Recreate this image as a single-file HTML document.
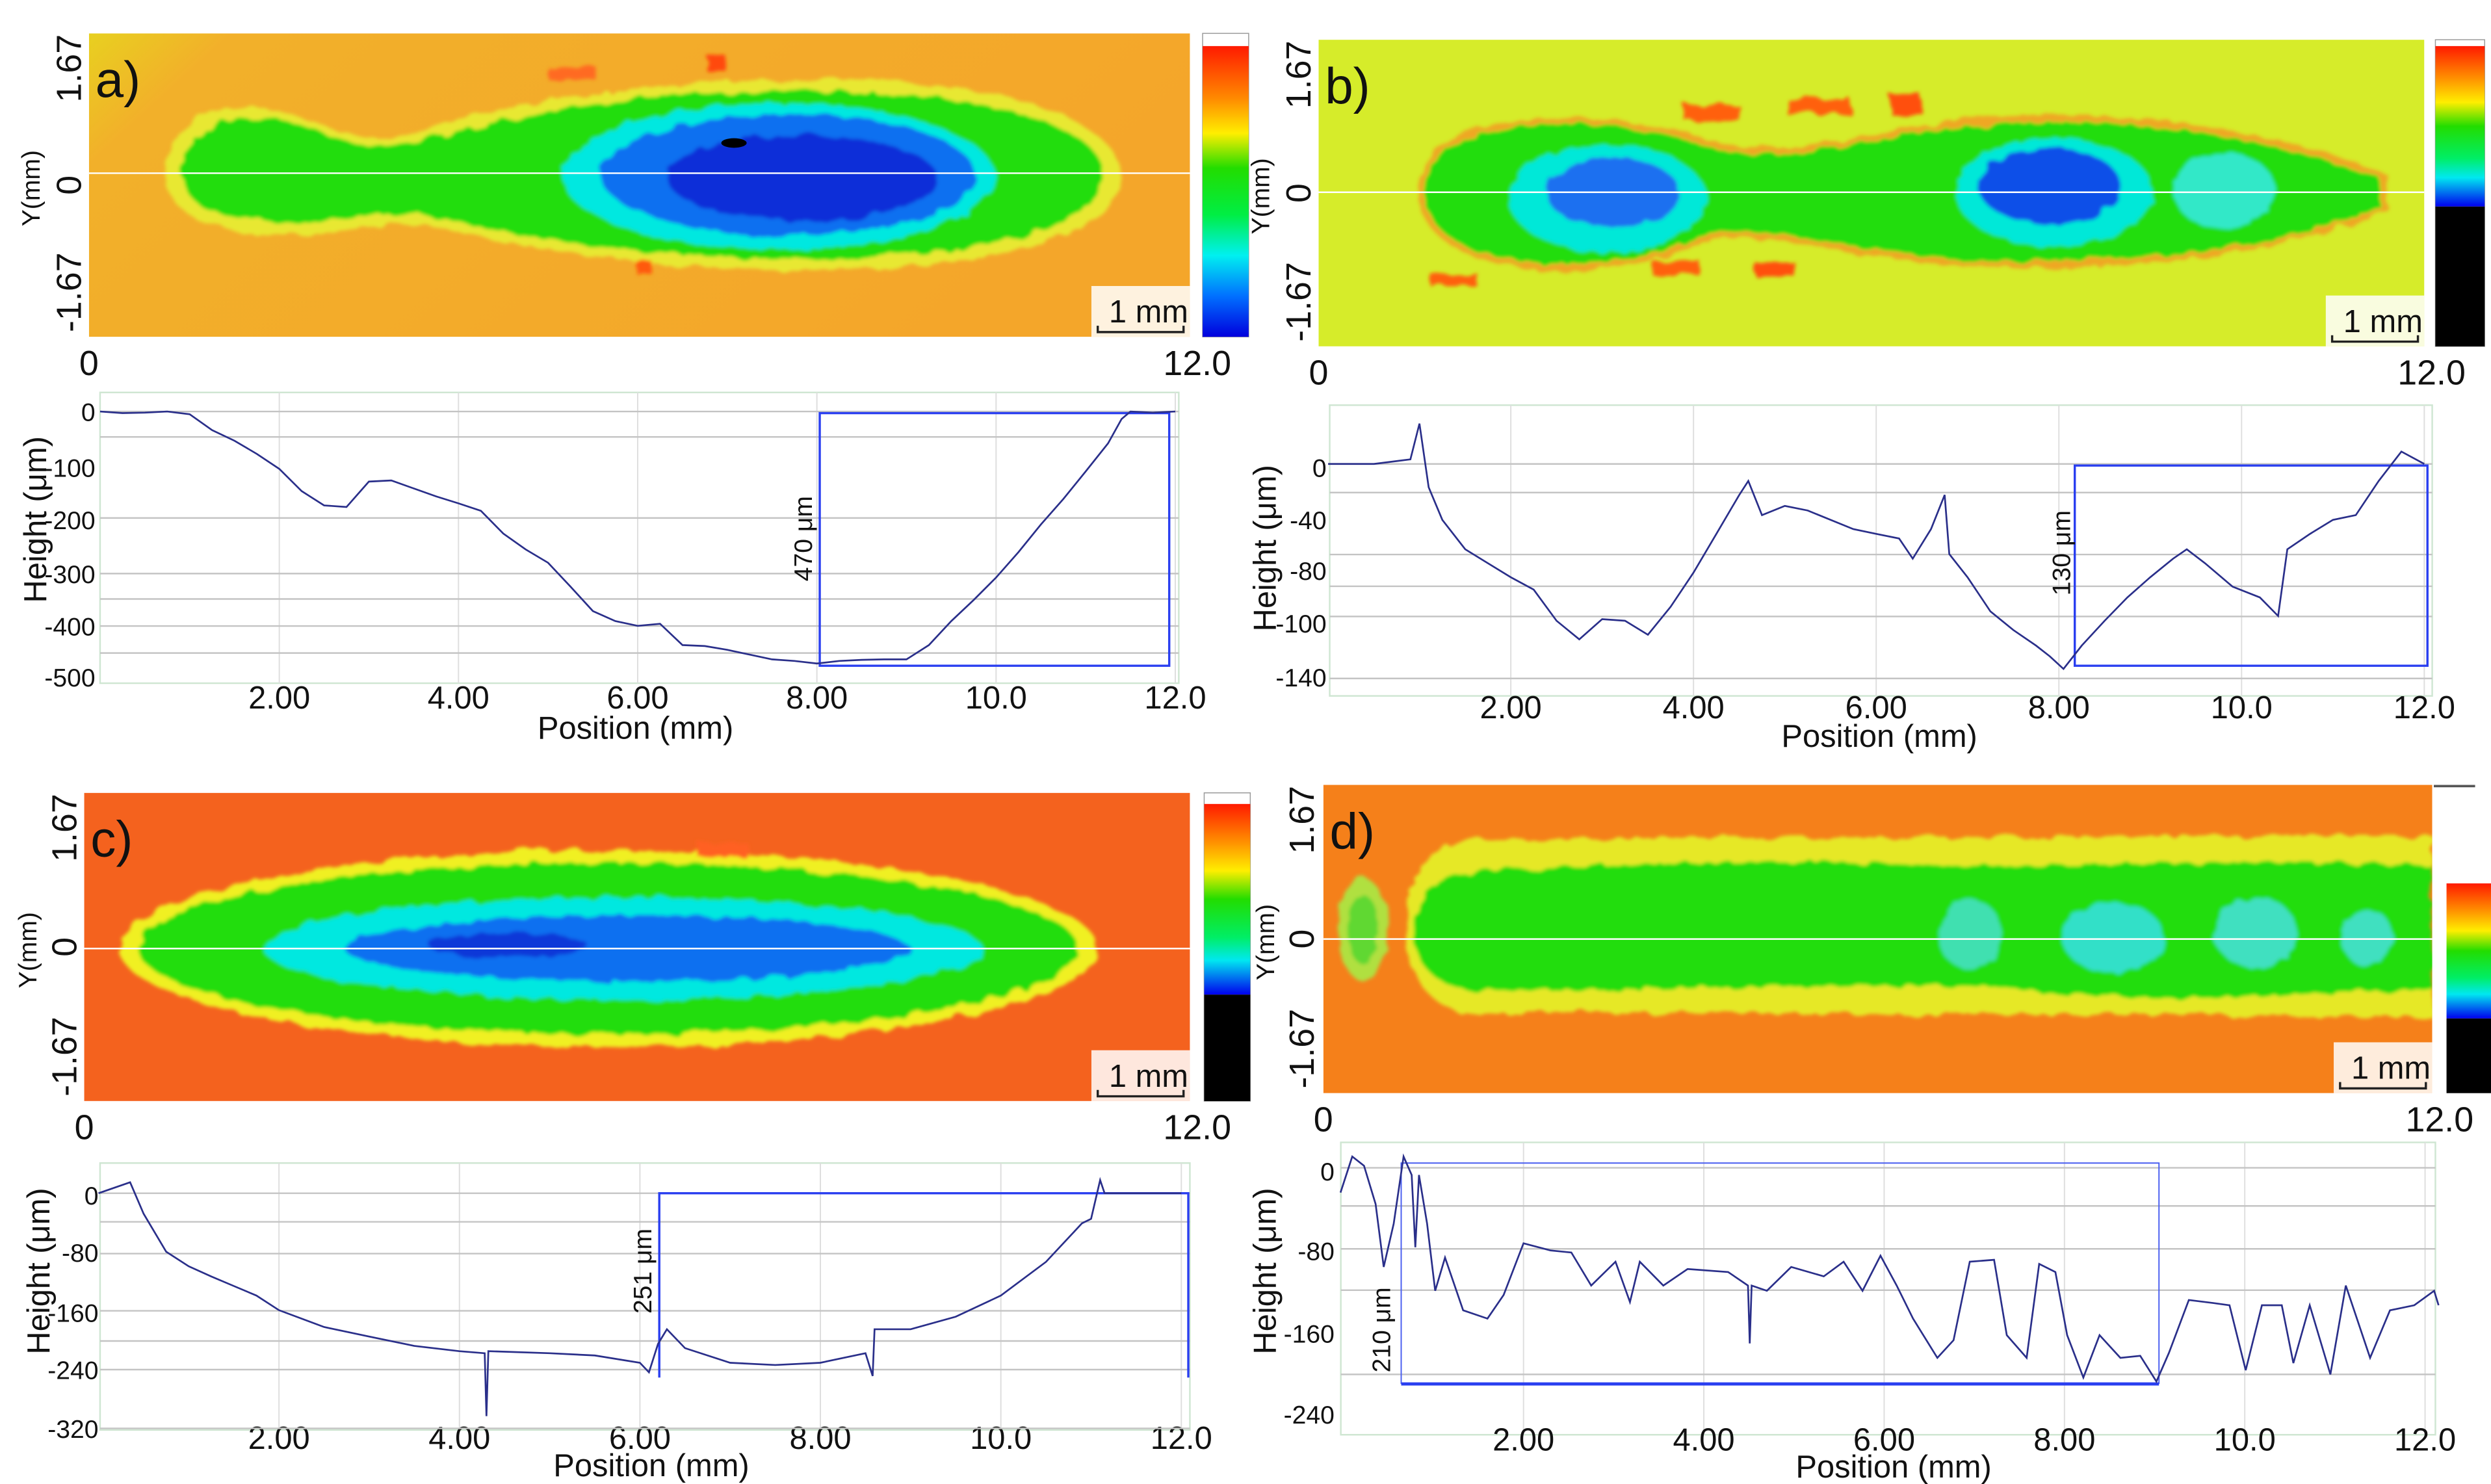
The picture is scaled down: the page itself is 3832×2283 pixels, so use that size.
<!DOCTYPE html>
<html><head><meta charset="utf-8"><style>
html,body{margin:0;padding:0;background:#fff;}
svg{display:block;}
text{font-family:"Liberation Sans","DejaVu Sans",sans-serif;fill:#111;}
</style></head><body>
<svg id="fig" xmlns="http://www.w3.org/2000/svg" width="3832" height="2283" viewBox="0 0 1568 934" preserveAspectRatio="none">
<defs>
<linearGradient id="cbar" x1="0" y1="0" x2="0" y2="1">
<stop offset="0" stop-color="#ff1a00"/><stop offset="0.18" stop-color="#ff8a00"/><stop offset="0.3" stop-color="#ffee00"/><stop offset="0.42" stop-color="#22dd00"/><stop offset="0.58" stop-color="#00ee44"/><stop offset="0.72" stop-color="#00f0f0"/><stop offset="0.86" stop-color="#0070ff"/><stop offset="1" stop-color="#0000dd"/>
</linearGradient>
<linearGradient id="cbar2" x1="0" y1="0" x2="0" y2="1">
<stop offset="0" stop-color="#ff1a00"/><stop offset="0.2" stop-color="#ff9000"/><stop offset="0.35" stop-color="#ffee00"/><stop offset="0.5" stop-color="#22dd00"/><stop offset="0.7" stop-color="#00ee66"/><stop offset="0.82" stop-color="#00e8f0"/><stop offset="1" stop-color="#0000ee"/>
</linearGradient>
<linearGradient id="bgA" x1="0" y1="0" x2="1" y2="0.3"><stop offset="0" stop-color="#e8d020"/><stop offset="0.12" stop-color="#f2b02a"/><stop offset="1" stop-color="#f4a62a"/></linearGradient>
<filter id="rough" x="-10%" y="-20%" width="120%" height="140%">
<feTurbulence type="fractalNoise" baseFrequency="0.09" numOctaves="2" seed="3"/>
<feDisplacementMap in="SourceGraphic" scale="7"/>
<feGaussianBlur stdDeviation="1.2"/>
</filter>
<clipPath id="clipA"><rect x="56" y="21" width="693" height="191"/></clipPath>
<clipPath id="clipB"><rect x="830" y="25" width="696" height="193"/></clipPath>
<clipPath id="clipC"><rect x="53" y="499" width="696" height="194"/></clipPath>
<clipPath id="clipD"><rect x="833" y="494" width="698" height="194"/></clipPath>
</defs>

<!-- MAP A -->
<g clip-path="url(#clipA)">
<rect x="56" y="21" width="693" height="191" fill="url(#bgA)"/>
<g filter="url(#rough)">
<path d="M104,108 C104,75 140,62 175,70 C205,76 225,92 250,86 C300,70 380,52 500,50 C640,48 705,78 705,110 C705,145 640,170 500,170 C400,170 330,155 270,142 C240,136 215,150 180,148 C130,146 104,135 104,108 Z" fill="#e8e830"/>
<path d="M115,108 C115,80 145,70 178,76 C205,81 225,96 252,92 C300,78 380,58 500,57 C630,56 695,82 695,110 C695,140 630,163 500,163 C400,163 330,150 272,136 C240,130 215,142 180,140 C135,138 115,130 115,108 Z" fill="#22dd10"/>
<ellipse cx="490" cy="111" rx="136" ry="46" fill="#00e8e0"/>
<ellipse cx="496" cy="110" rx="118" ry="38" fill="#1070f0"/>
<ellipse cx="505" cy="112" rx="85" ry="27" fill="#0a2fd8"/>
<rect x="445" y="35" width="12" height="10" fill="#ff4a10"/>
<rect x="345" y="42" width="30" height="8" fill="#ff6a20"/>
<rect x="400" y="164" width="10" height="8" fill="#ff5a10"/>
</g>
<ellipse cx="462" cy="90" rx="8" ry="3" fill="#000"/>
<line x1="56" y1="109" x2="749" y2="109" stroke="#fff" stroke-width="1"/>
</g>
<rect x="757" y="21" width="29" height="191" fill="#fff" stroke="#999" stroke-width="0.6"/>
<rect x="757" y="29" width="29" height="183" fill="url(#cbar)"/>

<!-- MAP B -->
<g clip-path="url(#clipB)">
<rect x="830" y="25" width="696" height="193" fill="#d6ec2a"/>
<g filter="url(#rough)">
<path d="M893,121 C893,90 930,74 985,74 C1040,74 1070,88 1090,92 C1150,96 1190,80 1240,75 C1320,68 1420,76 1503,110 L1503,132 C1440,160 1330,172 1240,168 C1180,165 1140,150 1090,150 C1060,152 1040,170 985,170 C930,170 893,152 893,121 Z" fill="#ff7a20" opacity="0.6"/>
<path d="M897,121 C897,92 932,78 985,78 C1040,78 1070,92 1090,96 C1150,100 1190,84 1240,79 C1320,72 1420,82 1498,112 L1498,130 C1440,158 1330,166 1240,164 C1180,161 1140,146 1090,146 C1060,148 1040,166 985,166 C932,166 897,150 897,121 Z" fill="#22dd10"/>
<ellipse cx="1012" cy="125" rx="62" ry="34" fill="#00e8d8"/>
<ellipse cx="1015" cy="121" rx="42" ry="22" fill="#1a70f0"/>
<ellipse cx="1293" cy="121" rx="62" ry="34" fill="#00e8d8"/>
<ellipse cx="1290" cy="117" rx="45" ry="24" fill="#1050e8"/>
<ellipse cx="1400" cy="120" rx="32" ry="24" fill="#30e8c8"/>
<rect x="1060" y="66" width="35" height="10" fill="#ff6010"/>
<rect x="1125" y="62" width="40" height="10" fill="#ff6010"/>
<rect x="1190" y="60" width="20" height="12" fill="#ff5010"/>
<rect x="1040" y="164" width="30" height="9" fill="#ff6010"/>
<rect x="900" y="172" width="30" height="8" fill="#ff6010"/>
<rect x="1105" y="165" width="25" height="9" fill="#ff5010"/>
</g>
<line x1="830" y1="121" x2="1526" y2="121" stroke="#fff" stroke-width="1"/>
</g>
<rect x="1533" y="25" width="31" height="193" fill="#fff" stroke="#999" stroke-width="0.6"/>
<rect x="1533" y="29" width="31" height="101" fill="url(#cbar2)"/>
<rect x="1533" y="130" width="31" height="88" fill="#000"/>

<!-- MAP C -->
<g clip-path="url(#clipC)">
<rect x="53" y="499" width="696" height="194" fill="#f4621e"/>
<g filter="url(#rough)">
<ellipse cx="383" cy="597" rx="308" ry="62" fill="#f0f020"/>
<ellipse cx="383" cy="597" rx="296" ry="54" fill="#22dd10"/>
<ellipse cx="392" cy="597" rx="226" ry="32" fill="#00e8e0"/>
<ellipse cx="395" cy="597" rx="178" ry="21" fill="#1070f0"/>
<ellipse cx="320" cy="595" rx="50" ry="8" fill="#0a38d8"/>
<rect x="440" y="530" width="30" height="10" fill="#ff6020"/>
<rect x="325" y="534" width="20" height="8" fill="#f0f020"/>
</g>
<line x1="53" y1="597" x2="749" y2="597" stroke="#fff" stroke-width="1"/>
</g>
<rect x="758" y="499" width="29" height="194" fill="#fff" stroke="#999" stroke-width="0.6"/>
<rect x="758" y="506" width="29" height="120" fill="url(#cbar2)"/>
<rect x="758" y="626" width="29" height="67" fill="#000"/>

<!-- MAP D -->
<g clip-path="url(#clipD)">
<rect x="833" y="494" width="698" height="194" fill="#f5801a"/>
<g filter="url(#rough)">
<path d="M920,528 L1531,526 L1531,640 L920,637 C895,630 885,610 885,583 C885,556 895,535 920,528 Z" fill="#e6e828"/>
<path d="M930,548 C1000,545 1100,540 1200,544 C1300,548 1400,538 1531,545 L1531,622 C1400,630 1300,628 1270,622 C1200,618 1100,622 930,624 C900,620 890,605 890,586 C890,566 900,552 930,548 Z" fill="#22dd10"/>
<ellipse cx="858" cy="585" rx="16" ry="32" fill="#b0e040"/>
<ellipse cx="858" cy="585" rx="9" ry="22" fill="#60d830"/>
<ellipse cx="1240" cy="588" rx="20" ry="22" fill="#40e0b0"/>
<ellipse cx="1330" cy="590" rx="32" ry="22" fill="#30e0c8"/>
<ellipse cx="1420" cy="587" rx="26" ry="22" fill="#40e0c0"/>
<ellipse cx="1490" cy="590" rx="16" ry="18" fill="#40e0c0"/>
</g>
<line x1="833" y1="591" x2="1531" y2="591" stroke="#fff" stroke-width="1"/>
</g>
<rect x="1532" y="494" width="26" height="1.5" fill="#555"/>
<rect x="1540" y="556" width="28" height="85" fill="url(#cbar2)"/>
<rect x="1540" y="641" width="28" height="47" fill="#000"/>

<g id="labels"></g>
<g id="plots"></g>
</svg>
<script>
// ---------- data ----------
const posA = [0,0.25,0.5,0.75,1.0,1.25,1.5,1.75,2.0,2.25,2.5,2.75,3.0,3.25,3.5,3.75,4.0,4.25,4.5,4.75,5.0,5.25,5.5,5.75,6.0,6.25,6.5,6.75,7.0,7.25,7.5,7.75,8.0,8.25,8.5,8.75,9.0,9.25,9.5,9.75,10.0,10.25,10.5,10.75,11.0,11.25,11.4,11.5,11.75,12.0];
const heightA = [0,-3,-2,0,-5,-35,-55,-80,-108,-150,-177,-180,-132,-130,-145,-160,-173,-187,-230,-260,-285,-330,-376,-395,-404,-400,-440,-442,-449,-458,-467,-470,-475,-470,-468,-467,-467,-440,-395,-355,-313,-265,-213,-165,-113,-60,-14,0,-2,0];
const posB = [0,0.5,0.9,1.0,1.1,1.25,1.5,1.75,2.0,2.25,2.5,2.75,3.0,3.25,3.5,3.75,4.0,4.25,4.5,4.6,4.75,5.0,5.25,5.5,5.75,6.0,6.25,6.4,6.6,6.75,6.8,7.0,7.25,7.5,7.75,7.9,8.05,8.25,8.5,8.75,9.0,9.25,9.4,9.6,9.9,10.2,10.4,10.5,10.75,11.0,11.25,11.5,11.75,12.0];
const heightB = [0,0,3,26,-15,-36,-55,-64,-73,-81,-101,-113,-100,-101,-110,-92,-70,-45,-20,-11,-33,-27,-30,-36,-42,-45,-48,-61,-42,-20,-58,-73,-95,-107,-117,-124,-132,-117,-101,-86,-73,-61,-55,-64,-79,-86,-98,-55,-45,-36,-33,-11,8,0];
const posC = [0,0.35,0.5,0.75,1.0,1.25,1.5,1.75,2.0,2.5,3.0,3.5,4.0,4.28,4.3,4.32,5.0,5.5,6.0,6.1,6.2,6.3,6.5,7.0,7.5,8.0,8.5,8.58,8.6,9.0,9.5,10.0,10.5,10.9,11.0,11.1,11.15,12.0];
const heightC = [0,15,-28,-80,-100,-114,-127,-140,-160,-183,-196,-209,-216,-219,-305,-216,-219,-222,-232,-245,-206,-186,-212,-232,-235,-232,-219,-250,-186,-186,-169,-140,-94,-41,-35,18,0,0];
const posD = [-0.03,0.1,0.23,0.36,0.45,0.56,0.67,0.76,0.8,0.84,0.93,1.02,1.13,1.33,1.6,1.78,2.0,2.3,2.53,2.75,3.02,3.18,3.29,3.55,3.82,4.27,4.49,4.51,4.53,4.7,4.97,5.33,5.55,5.76,5.96,6.14,6.32,6.59,6.77,6.95,7.22,7.36,7.58,7.72,7.9,8.03,8.21,8.39,8.62,8.84,9.02,9.16,9.38,9.65,9.83,10.01,10.19,10.41,10.54,10.72,10.95,11.12,11.39,11.61,11.88,12.1,12.15];
const heightD = [-24,11,2,-35,-96,-54,11,-7,-77,-7,-54,-119,-87,-138,-146,-123,-73,-80,-82,-114,-91,-130,-91,-114,-98,-101,-114,-170,-114,-119,-96,-105,-91,-119,-85,-114,-146,-184,-167,-91,-89,-162,-184,-93,-101,-162,-203,-162,-184,-182,-207,-179,-128,-131,-133,-196,-133,-133,-189,-133,-200,-114,-184,-138,-133,-119,-133];
const xTicks = [2,4,6,8,10,12];
const xTickLabels = ["2.00","4.00","6.00","8.00","10.0","12.0"];
const yTicksA = [0,-100,-200,-300,-400,-500];
const yTicksB = ["0","-40","-80","-100","-140"];
const yTicksC = ["0","-80","-160","-240","-320"];
const yTicksD = ["0","-80","-160","-240"];

const NS="http://www.w3.org/2000/svg";
const plots=document.getElementById('plots');
const labels=document.getElementById('labels');
function mk(tag,attrs,parent,txt){const e=document.createElementNS(NS,tag);for(const k in attrs)e.setAttribute(k,attrs[k]);if(txt!==undefined)e.textContent=txt;parent.appendChild(e);return e;}

// ---------- map labels ----------
const maps=[
 {id:'a',x0:56,y0:21,x1:749,y1:212,lx:43,yl:20},
 {id:'b',x0:830,y0:25,x1:1526,y1:218,lx:817,yl:794},
 {id:'c',x0:53,y0:499,x1:749,y1:693,lx:40,yl:18},
 {id:'d',x0:833,y0:494,x1:1531,y1:688,lx:819,yl:797}
];
maps.forEach(m=>{
  const g=mk('g',{},labels);
  
  
  const mid=(m.y0+m.y1)/2;
  const t1=mk('text',{x:0,y:0,'font-size':22,'text-anchor':'middle',transform:`translate(${m.lx+8},${m.y0+22}) rotate(-90)`},g,'1.67');
  
  const t2=mk('text',{x:0,y:0,'font-size':22,'text-anchor':'middle',transform:`translate(${m.lx+8},${mid}) rotate(-90)`},g,'0');
  
  const t3=mk('text',{x:0,y:0,'font-size':22,'text-anchor':'middle',transform:`translate(${m.lx+8},${m.y1-28}) rotate(-90)`},g,'-1.67');
  
  const t4=mk('text',{x:0,y:0,'font-size':16,'text-anchor':'middle',transform:`translate(${m.yl+5},${mid+2}) rotate(-90)`},g,'Y(mm)');
  
  const t5=mk('text',{x:m.x0,y:m.y1+24,'font-size':22,'text-anchor':'middle'},g,'0');
  
  const t6=mk('text',{x:m.x1+26,y:m.y1+24,'font-size':22,'text-anchor':'end'},g,'12.0');
  
  const t7=mk('text',{x:m.x0+4,y:m.y0+40,'font-size':32},g,m.id+')');
  
  mk('rect',{x:m.x1-62,y:m.y1-32,width:62,height:32,fill:'#fff','fill-opacity':0.85},g);
  const t8=mk('text',{x:m.x1-1,y:m.y1-9,'font-size':20,'text-anchor':'end'},g,'1 mm');
  
  const sb=mk('path',{d:`M${m.x1-58},${m.y1-7} v4 h54 v-4`,stroke:'#222','stroke-width':1.4,fill:'none'},g);
  
});

// ---------- profile plots ----------
const P=[
 {id:'a',fx0:63,fx1:742,fy0:247,fy1:430,mm0:63,ppm:56.4,z0:259,ppu:0.334,pos:posA,h:heightA,
  grid:[259,275,326,361,377,394,411],ylab:yTicksA.map(String),ylabY:[259,294,327,361,394,426],ylx:60,
  box:[516,736,260,419,true],boxLabel:'470 μm',blx:506,bly:339,hx:22,hy:327,tickY:446,posX:400,posY:465},
 {id:'b',fx0:837,fx1:1531,fy0:255,fy1:438,mm0:836,ppm:57.5,z0:292,ppu:0.977,pos:posB,h:heightB,
  grid:[292,310,349,369,388,427],ylab:yTicksB,ylabY:[294,327,359,392,426],ylx:835,
  box:[1306,1528,293,419,true],boxLabel:'130 μm',blx:1298,bly:348,hx:796,hy:345,tickY:452,posX:1183,posY:470},
 {id:'c',fx0:63,fx1:749,fy0:732,fy1:900,mm0:62,ppm:56.8,z0:751,ppu:0.46,pos:posC,h:heightC,
  grid:[751,769,789,825,844,862,899],ylab:yTicksC,ylabY:[752,788,826,862,899],ylx:62,
  box:[415,748,751,867,false],boxLabel:'251 μm',blx:405,bly:800,hx:24,hy:800,tickY:912,posX:410,posY:929},
 {id:'d',fx0:844,fx1:1533,fy0:719,fy1:903,mm0:845.5,ppm:56.75,z0:735,ppu:0.65,pos:posD,h:heightD,
  grid:[735,759,786,812,865],ylab:yTicksD,ylabY:[737,787,839,890],ylx:840,
  box:[882,1359,732,871,'d'],boxLabel:'210 μm',blx:870,bly:837,hx:796,hy:800,tickY:913,posX:1192,posY:930}
];
P.forEach(p=>{
  const X=mm=>p.mm0+mm*p.ppm;
  const Y=v=>p.z0-v*p.ppu;
  const g=mk('g',{},plots);
  
  
  const fr=mk('rect',{x:p.fx0,y:p.fy0,width:p.fx1-p.fx0,height:p.fy1-p.fy0,fill:'none',stroke:'#cfe6d2','stroke-width':1},g);
  
  xTicks.forEach((t,i)=>{
    const l=mk('line',{x1:X(t),x2:X(t),y1:p.fy0,y2:p.fy1,stroke:'#dedede','stroke-width':0.8},g);
    
    const tx=mk('text',{x:X(t),y:p.tickY,'font-size':20,'text-anchor':'middle'},g,xTickLabels[i]);
    
  });
  p.grid.forEach(gy=>{
    const l=mk('line',{x1:p.fx0,x2:p.fx1,y1:gy,y2:gy,stroke:'#c4c4c4','stroke-width':1},g);
    
  });
  p.ylab.forEach((s,i)=>{
    const tx=mk('text',{x:p.ylx,y:p.ylabY[i]+6,'font-size':16,'text-anchor':'end'},g,s);
    
  });
  const [bx0,bx1,by0,by1,full]=p.box;
  if(full==='d'){
    const b1=mk('path',{d:`M${bx0},${by1} V${by0} H${bx1} V${by1}`,fill:'none',stroke:'#4a5ff0','stroke-width':0.8},g);
    
    const b2=mk('line',{x1:bx0,x2:bx1,y1:by1,y2:by1,stroke:'#2a3ff0','stroke-width':2},g);
    
  } else {
    const bd = full===true ? `M${bx0},${by0} H${bx1} V${by1} H${bx0} Z` : `M${bx0},${by1} V${by0} H${bx1} V${by1}`;
    const bx=mk('path',{d:bd,fill:'none',stroke:'#2a3ff0','stroke-width':1.4},g);
    
  }
  const bl=mk('text',{x:0,y:0,'font-size':16,'text-anchor':'middle',transform:`translate(${p.blx+5},${p.bly}) rotate(-90)`},g,p.boxLabel);
  
  let d='';
  p.pos.forEach((x,i)=>{d+=(i?'L':'M')+X(x).toFixed(1)+','+Y(p.h[i]).toFixed(1);});
  const c=mk('path',{d:d,fill:'none',stroke:'#2a2f8a','stroke-width':1.1},g);
  
  const ht=mk('text',{x:0,y:0,'font-size':20,'text-anchor':'middle',transform:`translate(${p.hx+7},${p.hy}) rotate(-90)`},g,'Height (μm)');
  
  const pt=mk('text',{x:p.posX,y:p.posY,'font-size':20,'text-anchor':'middle'},g,'Position (mm)');
  
});
</script>
</body></html>
